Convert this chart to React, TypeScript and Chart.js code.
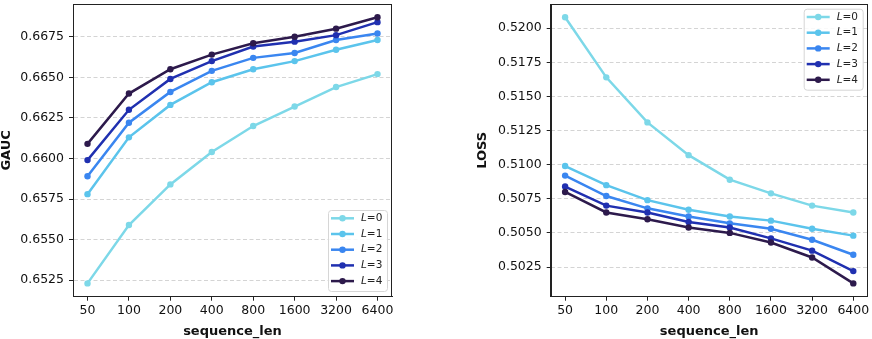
import React, { useEffect, useRef } from "react";
import { Chart, registerables } from "chart.js";
Chart.register(...registerables);

const categories = ["50", "100", "200", "400", "800", "1600", "3200", "6400"];
const layerLabels = ["0", "1", "2", "3", "4"];
const colors = ["#7dd8e8", "#5bc4ec", "#3a86f0", "#2030b0", "#2d1a4c"];

const gaucL0 = [0.6523, 0.6559, 0.6584, 0.6604, 0.662, 0.6632, 0.6644, 0.6652];
const gaucL1 = [0.6578, 0.6613, 0.6633, 0.6647, 0.6655, 0.666, 0.6667, 0.6673];
const gaucL2 = [0.6589, 0.6622, 0.6641, 0.6654, 0.6662, 0.6665, 0.6673, 0.6677];
const gaucL3 = [0.6599, 0.663, 0.6649, 0.666, 0.6669, 0.6672, 0.6676, 0.6684];
const gaucL4 = [0.6609, 0.664, 0.6655, 0.6664, 0.6671, 0.6675, 0.668, 0.6687];

const lossL0 = [0.5208, 0.5164, 0.5131, 0.5107, 0.5089, 0.5079, 0.507, 0.5065];
const lossL1 = [0.5099, 0.5085, 0.5074, 0.5067, 0.5062, 0.5059, 0.5053, 0.5048];
const lossL2 = [0.5092, 0.5077, 0.5068, 0.5062, 0.5057, 0.5053, 0.5045, 0.5034];
const lossL3 = [0.5084, 0.507, 0.5065, 0.5058, 0.5054, 0.5046, 0.5037, 0.5022];
const lossL4 = [0.508, 0.5065, 0.506, 0.5054, 0.505, 0.5043, 0.5032, 0.5013];

const gaucTicks = [0.6525, 0.655, 0.6575, 0.66, 0.6625, 0.665, 0.6675];
const lossTicks = [0.5025, 0.505, 0.5075, 0.51, 0.5125, 0.515, 0.5175, 0.52];

const FONT = "DejaVu Sans";

const framePlugin = {
  id: "frame",
  afterDraw(chart: any) {
    const { ctx, chartArea } = chart;
    ctx.save();
    ctx.strokeStyle = "#222";
    ctx.lineWidth = 1;
    ctx.strokeRect(
      Math.round(chartArea.left) + 0.5,
      Math.round(chartArea.top) + 0.5,
      Math.round(chartArea.right - chartArea.left) - 1,
      Math.round(chartArea.bottom - chartArea.top) - 1
    );
    ctx.restore();
  },
};

const legendPlugin = {
  id: "mplLegend",
  afterDraw(chart: any, _args: any, opts: any) {
    const { ctx, chartArea } = chart;
    const w = 59;
    const h = 81;
    const x = chartArea.right - 5 - w;
    const y = opts.corner === "upper" ? chartArea.top + 4.7 : chartArea.bottom - 5.7 - h;
    ctx.save();
    ctx.beginPath();
    (ctx as any).roundRect(x + 0.5, y + 0.5, w, h, 3);
    ctx.fillStyle = "rgba(255,255,255,0.85)";
    ctx.fill();
    ctx.strokeStyle = "#d6d6d6";
    ctx.lineWidth = 1;
    ctx.stroke();
    chart.data.datasets.forEach((ds: any, i: number) => {
      const cy = y + 8.3 + i * 15.7;
      ctx.strokeStyle = ds.borderColor;
      ctx.lineWidth = 2.5;
      ctx.beginPath();
      ctx.moveTo(x + 3, cy);
      ctx.lineTo(x + 26, cy);
      ctx.stroke();
      ctx.fillStyle = ds.borderColor;
      ctx.beginPath();
      ctx.arc(x + 14.5, cy, 3.2, 0, Math.PI * 2);
      ctx.fill();
      ctx.fillStyle = "#222";
      ctx.textBaseline = "middle";
      ctx.textAlign = "left";
      ctx.font = `italic 10.5px ${FONT}`;
      ctx.fillText("L", x + 33, cy);
      const lw = ctx.measureText("L").width;
      ctx.font = `10.5px ${FONT}`;
      ctx.fillText("=" + ds.layer, x + 33 + lw, cy);
    });
    ctx.restore();
  },
};

function zeroPad(axis: any) {
  axis.paddingTop = 0;
  axis.paddingBottom = 0;
  axis.paddingLeft = 0;
  axis.paddingRight = 0;
}

function makeConfig(
  series: number[][],
  ticks: number[],
  yTitle: string,
  corner: string,
  padLeft: number,
  yWidth: number,
  padRight: number
): any {
  const all = series.flat();
  const lo = Math.min(...all);
  const hi = Math.max(...all);
  const margin = (hi - lo) * 0.05;
  return {
    type: "line",
    data: {
      datasets: series.map((vals, i) => ({
        label: "L=" + layerLabels[i],
        layer: layerLabels[i],
        data: vals.map((v, j) => ({ x: j, y: v })),
        borderColor: colors[i],
        backgroundColor: colors[i],
        borderWidth: 2.5,
        pointRadius: 3.2,
        pointBorderWidth: 0,
        pointBackgroundColor: colors[i],
        tension: 0,
        order: series.length - i,
      })),
    },
    options: {
      responsive: false,
      animation: false,
      devicePixelRatio: 1,
      layout: { padding: { left: padLeft, right: padRight, top: 3, bottom: 0 } },
      plugins: {
        legend: { display: false },
        tooltip: { enabled: false },
        mplLegend: { corner },
      },
      scales: {
        x: {
          type: "linear",
          min: -0.35,
          max: categories.length - 1 + 0.35,
          afterBuildTicks: (axis: any) => {
            axis.ticks = categories.map((_, i) => ({ value: i }));
          },
          afterFit: (axis: any) => {
            axis.height = 42.3;
            zeroPad(axis);
          },
          ticks: {
            callback: (v: number) => categories[v],
            color: "#111",
            font: { family: FONT, size: 12.5 },
            padding: 3,
            maxRotation: 0,
            autoSkip: false,
          },
          grid: {
            drawOnChartArea: false,
            drawTicks: true,
            tickLength: 4,
            tickColor: "#222",
            tickWidth: 1,
          },
          border: { display: true, color: "#222", width: 1 },
          title: {
            display: true,
            text: "sequence_len",
            color: "#111",
            font: { family: FONT, size: 13, weight: "bold", lineHeight: 1.2 },
            padding: { top: 0, bottom: 0 },
          },
        },
        y: {
          type: "linear",
          min: lo - margin,
          max: hi + margin,
          afterBuildTicks: (axis: any) => {
            axis.ticks = ticks.map((v) => ({ value: v }));
          },
          afterFit: (axis: any) => {
            axis.width = yWidth;
            zeroPad(axis);
          },
          ticks: {
            callback: (v: number) => v.toFixed(4),
            color: "#111",
            font: { family: FONT, size: 12.5 },
            padding: 5,
          },
          grid: {
            color: "#cfcfcf",
            lineWidth: 0.9,
            drawTicks: true,
            tickLength: 4,
            tickColor: "#222",
            tickWidth: 1,
            tickBorderDash: [],
          },
          border: { display: true, color: "#222", width: 1, dash: [4, 2.5] },
          title: {
            display: true,
            text: yTitle,
            color: "#111",
            font: { family: FONT, size: 13, weight: "bold", lineHeight: 1 },
            padding: { top: 0, bottom: 0 },
          },
        },
      },
    },
    plugins: [framePlugin, legendPlugin],
  };
}

function ChartCanvas({ config, left }: { config: any; left: number }) {
  const ref = useRef<HTMLCanvasElement>(null);
  useEffect(() => {
    if (!ref.current) return;
    const chart = new Chart(ref.current, config);
    return () => chart.destroy();
  }, [config]);
  return (
    <div style={{ position: "absolute", left, top: 0, width: 436, height: 339 }}>
      <canvas ref={ref} width={436} height={339} style={{ display: "block", width: 436, height: 339 }} />
    </div>
  );
}

const gaucConfig = makeConfig([gaucL0, gaucL1, gaucL2, gaucL3, gaucL4], gaucTicks, "GAUC", "lower", 0, 73, 44);
const lossConfig = makeConfig([lossL0, lossL1, lossL2, lossL3, lossL4], lossTicks, "LOSS", "upper", 40.5, 74.2, 4.3);

export default function App() {
  return (
    <div style={{ position: "fixed", left: 0, top: 0, width: 872, height: 339, background: "#fff", overflow: "hidden" }}>
      <ChartCanvas config={gaucConfig} left={0} />
      <ChartCanvas config={lossConfig} left={436} />
    </div>
  );
}
